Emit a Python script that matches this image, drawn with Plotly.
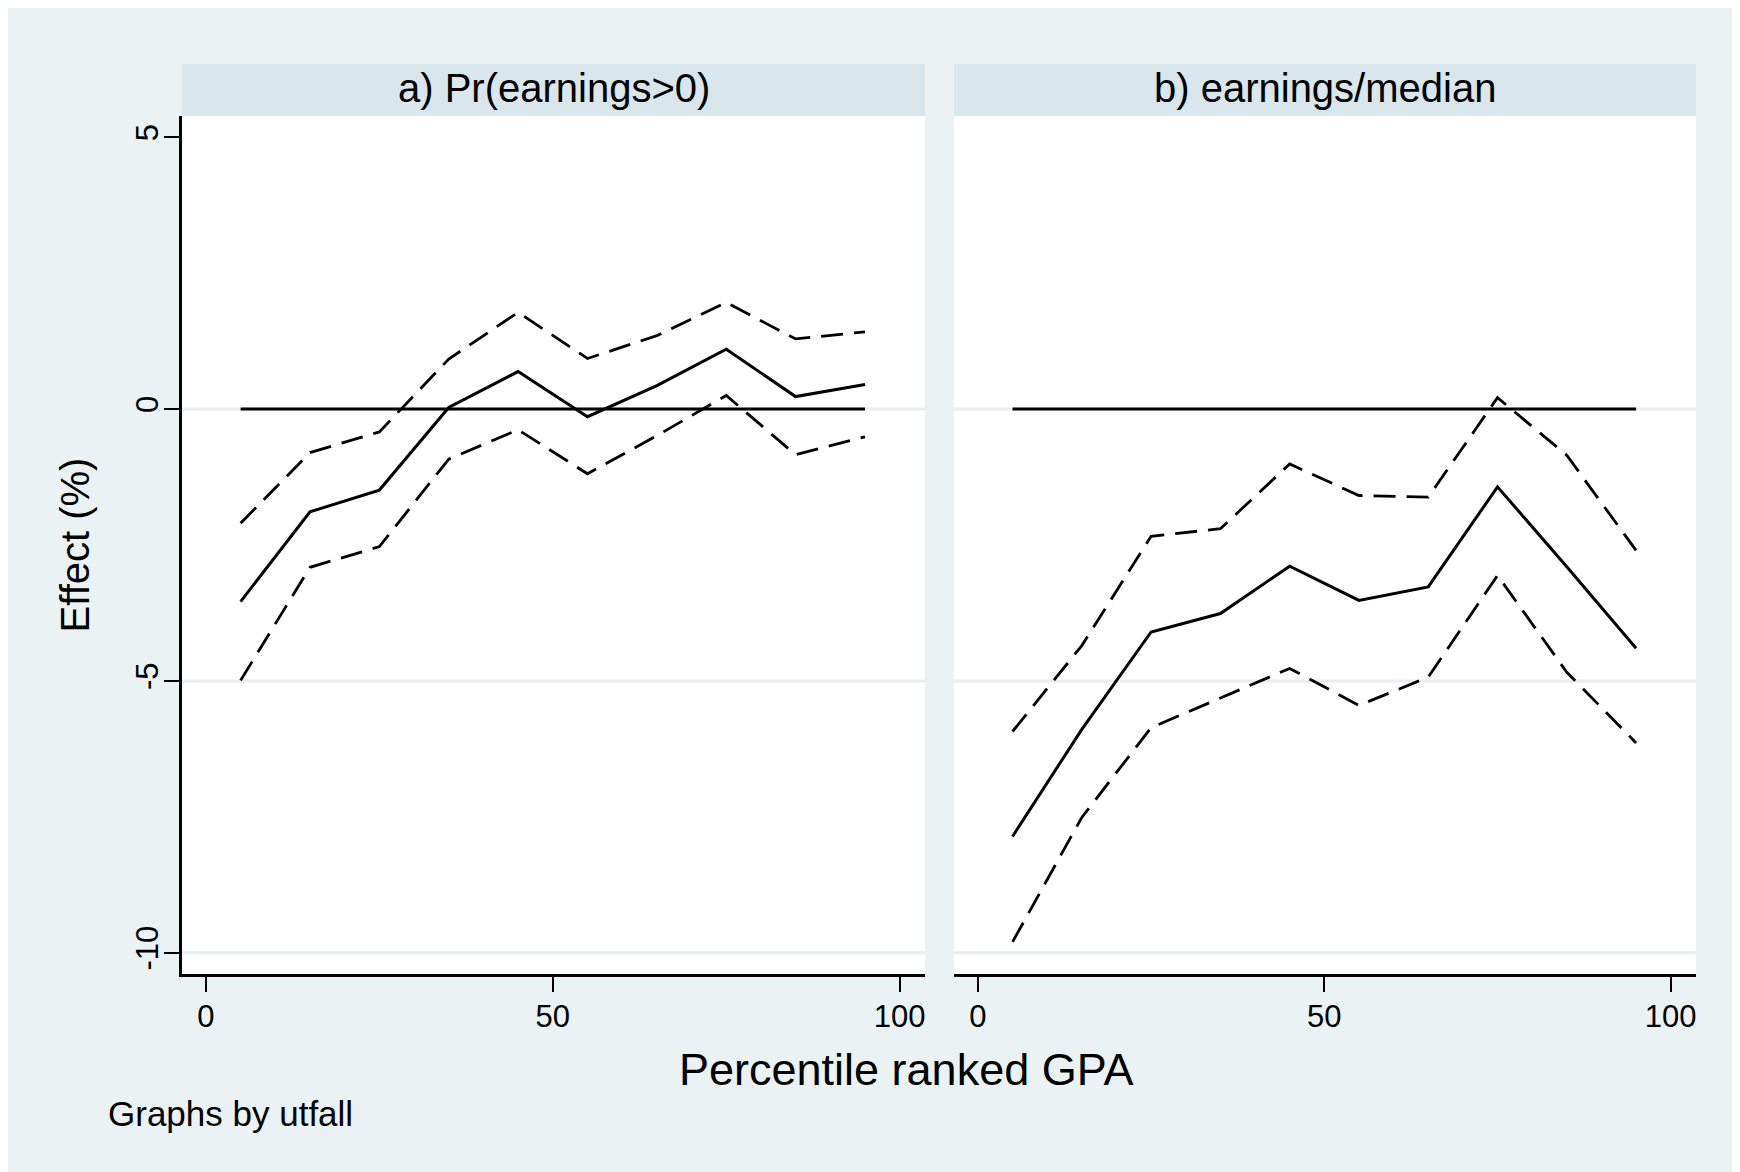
import plotly.graph_objects as go

# ---- data ----
pct = [5, 15, 25, 35, 45, 55, 65, 75, 85, 95]
ref_line = [0, 0, 0, 0, 0, 0, 0, 0, 0, 0]

a_est = [-3.54, -1.89, -1.49, 0.03, 0.69, -0.14, 0.43, 1.10, 0.23, 0.45]
a_hi = [-2.10, -0.80, -0.42, 0.92, 1.78, 0.93, 1.35, 1.96, 1.29, 1.42]
a_lo = [-4.99, -2.91, -2.53, -0.92, -0.38, -1.19, -0.49, 0.25, -0.84, -0.51]

b_est = [-7.86, -5.89, -4.10, -3.76, -2.89, -3.52, -3.27, -1.43, -2.90, -4.40]
b_hi = [-5.93, -4.35, -2.34, -2.20, -1.01, -1.59, -1.62, 0.21, -0.85, -2.60]
b_lo = [-9.80, -7.51, -5.86, -5.31, -4.77, -5.45, -4.93, -3.06, -4.84, -6.14]

panel_titles = ["a) Pr(earnings>0)", "b) earnings/median"]
x_ticks = [0, 50, 100]
x_tick_text = ["0", "50", "100"]
y_ticks = [-10, -5, 0, 5]
y_tick_text = ["-10", "-5", "0", "5"]
grid_vals = [-10, -5, 0]
x_title = "Percentile ranked GPA"
y_title = "Effect (%)"
note = "Graphs by utfall"

# ---- style ----
FONT = "Liberation Sans, Arial, sans-serif"
BG = "#EAF2F3"
STRIP = "#D9E6EB"
GRID = "#E6EEF0"
INK = "#000000"
W, H = 1740, 1172
OFF = 8  # page margin: screen coordinates are paper coordinates + 8
L, R, T, B = 174, 52, 108, 206
PW = W - L - R
PH = H - T - B


def px_x(p):  # screen x -> paper fraction
    return (p - OFF - L) / PW


def px_y(p):  # screen y -> paper fraction
    return (H - B - (p - OFF)) / PH


fig = go.Figure()

panels = [(a_est, a_hi, a_lo, "x", "y"), (b_est, b_hi, b_lo, "x2", "y2")]
for est, hi, lo, xa, ya in panels:
    fig.add_trace(go.Scatter(x=pct, y=ref_line, mode="lines", xaxis=xa, yaxis=ya,
                             line=dict(color=INK, width=3), showlegend=False, hoverinfo="skip"))
    fig.add_trace(go.Scatter(x=pct, y=hi, mode="lines", xaxis=xa, yaxis=ya,
                             line=dict(color=INK, width=2.8, dash="22px,11px"), showlegend=False))
    fig.add_trace(go.Scatter(x=pct, y=est, mode="lines", xaxis=xa, yaxis=ya,
                             line=dict(color=INK, width=3), showlegend=False))
    fig.add_trace(go.Scatter(x=pct, y=lo, mode="lines", xaxis=xa, yaxis=ya,
                             line=dict(color=INK, width=2.8, dash="22px,11px"), showlegend=False))

xrange = [-3.45, 103.65]
yrange = [-10.39, 5.39]
d1 = [0, px_x(925)]
d2 = [px_x(954), 1]

common_x = dict(range=xrange, tickvals=x_ticks, ticktext=x_tick_text, ticks="outside", ticklen=15,
                tickwidth=2, tickcolor=INK, showline=True, linecolor=INK, linewidth=2.5,
                showgrid=False, zeroline=False, ticklabelstandoff=-2,
                tickfont=dict(family=FONT, size=31, color=INK), fixedrange=True)
fig.update_layout(
    xaxis=dict(domain=d1, anchor="y", **common_x),
    xaxis2=dict(domain=d2, anchor="y2", **common_x),
    yaxis=dict(domain=[0, 1], anchor="x", range=yrange, tickvals=y_ticks, ticktext=y_tick_text,
               ticks="outside", ticklen=15, tickwidth=2, tickcolor=INK, tickangle=-90,
               showline=True, linecolor=INK, linewidth=2.5, showgrid=False, zeroline=False,
               ticklabelstandoff=-6, tickfont=dict(family=FONT, size=31, color=INK),
               title=dict(text=y_title, font=dict(family=FONT, size=40, color=INK), standoff=28)),
    yaxis2=dict(domain=[0, 1], anchor="x2", range=yrange, tickvals=y_ticks, showticklabels=False,
                ticks="", showline=False, showgrid=False, zeroline=False),
)

shapes = []
strip_h = 52 / PH
for xa, ya in [("x", "y"), ("x2", "y2")]:
    shapes.append(dict(type="rect", xref=f"{xa} domain", yref=f"{ya} domain", x0=0, x1=1,
                       y0=1, y1=1 + strip_h, fillcolor=STRIP, line=dict(width=0), layer="below"))
    for g in grid_vals:
        shapes.append(dict(type="line", xref=f"{xa} domain", yref=ya, x0=0, x1=1, y0=g, y1=g,
                           line=dict(color=GRID, width=3), layer="below"))
fig.update_layout(shapes=shapes)

ann = []
for title, (d0, d1_) in zip(panel_titles, [d1, d2]):
    ann.append(dict(text=title, xref="paper", yref="paper", x=(d0 + d1_) / 2, y=px_y(88),
                    xanchor="center", yanchor="middle", showarrow=False,
                    font=dict(family=FONT, size=40, color=INK)))
ann.append(dict(text=x_title, xref="paper", yref="paper", x=px_x(906), y=px_y(1069),
                xanchor="center", yanchor="middle", showarrow=False,
                font=dict(family=FONT, size=45, color=INK)))
ann.append(dict(text=note, xref="paper", yref="paper", x=px_x(106), y=px_y(1113),
                xanchor="left", yanchor="middle", showarrow=False,
                font=dict(family=FONT, size=35, color=INK)))
fig.update_layout(annotations=ann)

fig.update_layout(width=W, height=H, margin=dict(l=L, r=R, t=T, b=B, pad=0),
                  paper_bgcolor=BG, plot_bgcolor="white", showlegend=False,
                  font=dict(family=FONT, color=INK))

fig.write_html("out.html", config={"displayModeBar": False})
